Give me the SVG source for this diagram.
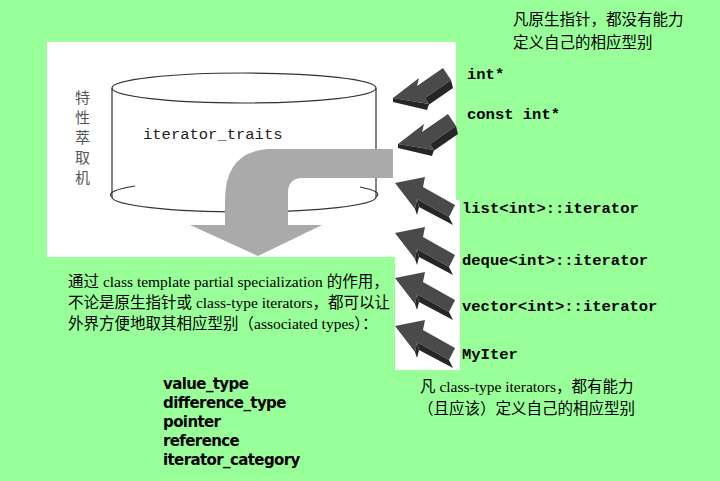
<svg xmlns="http://www.w3.org/2000/svg" width="720" height="481" viewBox="0 0 720 481">
<defs>
<style>
.cjk{font-family:"Liberation Serif","Noto Sans CJK SC",serif;font-size:15.5px;fill:#000}
.code{font-family:"Liberation Mono",monospace;font-weight:bold;font-size:15.5px;fill:#000}
.typ{font-family:"DejaVu Sans",sans-serif;font-weight:bold;font-size:15px;fill:#000;letter-spacing:-0.6px}
.darr{fill:#4a4a4a}
.darr2{fill:#262626}
</style>
<g id="arrowDown"><polygon class="darr" points="0,10 26,-10 24,-2 50,-20 58,-8 32,10 36,16"/><polygon class="darr2" points="50,-20 58,-8 60,0 34,18 36,16 32,10 58,-8"/><polygon class="darr2" points="0,10 36,16 34,22 0,14"/></g>
<g id="arrowUp"><polygon class="darr" points="0,0 30,-6 28,4 60,22 54,34 22,16 20,26"/><polygon class="darr2" points="60,22 54,34 58,42 24,24 22,16 54,34"/><polygon class="darr2" points="20,26 22,16 24,24 22,32"/></g>
</defs>
<rect width="720" height="481" fill="#99FF99"/>
<polygon points="47,42 456,42 456,200 460,200 460,370 395,370 395,257 47,257" fill="#fff"/>
<g id="cylinder" fill="none" stroke="#333" stroke-width="1.2">
<ellipse cx="244" cy="88" rx="132" ry="15"/>
<line x1="112" y1="88" x2="112" y2="197"/>
<line x1="376" y1="88" x2="376" y2="197"/>
<path d="M112,197 A132,15 0 0 0 376,197"/>
<path d="M112,197 A132,15 0 0 1 135,186"/>
<path d="M360,187 A132,15 0 0 1 376,197"/>
<text x="143" y="139" style="font-family:'Liberation Mono',monospace;font-size:15.5px;fill:#222;stroke:none">iterator_traits</text>
</g>
<g id="vlabel" style="font-family:'Noto Sans CJK SC',sans-serif;font-size:15px;fill:#555">
<text x="75" y="103">特</text><text x="75" y="123">性</text><text x="75" y="143">萃</text><text x="75" y="163">取</text><text x="75" y="183">机</text>
</g>
<g id="bigArrow"><path d="M393,149 L268,149 Q225,152 225,200 L225,225 L190,225 L258,256 L322,225 L288,225 L288,190 Q290,178 302,178 L393,178 Z" fill="#aaa"/></g>
<g id="connectors">
<use href="#arrowDown" x="393" y="88"/>
<use href="#arrowDown" x="398" y="134"/>
<use href="#arrowUp" x="395" y="183"/>
<use href="#arrowUp" x="395" y="233"/>
<use href="#arrowUp" x="395" y="278"/>
<use href="#arrowUp" x="395" y="326"/>
</g>
<g id="labels">
<text class="code" x="467" y="79">int*</text>
<text class="code" x="467" y="119">const int*</text>
<text class="code" x="462" y="213">list&lt;int&gt;::iterator</text>
<text class="code" x="462" y="265">deque&lt;int&gt;::iterator</text>
<text class="code" x="462" y="311">vector&lt;int&gt;::iterator</text>
<text class="code" x="462" y="359">MyIter</text>
</g>
<g id="notes">
<text class="cjk" x="513" y="25">凡原生指针，都没有能力</text>
<text class="cjk" x="513" y="48">定义自己的相应型别</text>
<text class="cjk" x="68" y="287">通过 class template partial specialization 的作用，</text>
<text class="cjk" x="68" y="308">不论是原生指针或 class-type iterators，都可以让</text>
<text class="cjk" x="68" y="329">外界方便地取其相应型别（associated types）：</text>
<text class="cjk" x="420" y="392">凡 class-type iterators，都有能力</text>
<text class="cjk" x="418" y="414">（且应该）定义自己的相应型别</text>
<text class="typ" x="163" y="389">value_type</text>
<text class="typ" x="163" y="408">difference_type</text>
<text class="typ" x="163" y="427">pointer</text>
<text class="typ" x="163" y="446">reference</text>
<text class="typ" x="163" y="465">iterator_category</text>
</g>
</svg>
